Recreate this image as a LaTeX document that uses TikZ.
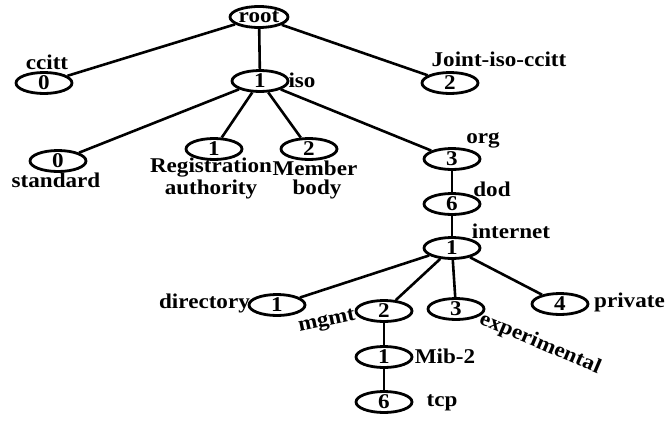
\documentclass[tikz,border=0pt]{standalone}
\usepackage{fontspec}
\setmainfont{Liberation Serif}[FakeStretch=1.1]
\usetikzlibrary{shapes.geometric}
\begin{document}
\begin{tikzpicture}[x=1pt,y=-1pt,
  oid/.style={ellipse,draw,line width=2.8pt,minimum width=56pt,minimum height=21pt,inner sep=0pt,font=\bfseries\fontsize{21}{21}\selectfont},
  lbl/.style={inner sep=0pt,font=\bfseries\fontsize{21}{21}\selectfont},
  edge/.style={line width=2.6pt}]
\useasboundingbox (0,0) rectangle (671,420);
% nodes
\node[oid,minimum width=58pt] (root) at (259,17) {root};
\node[oid] (ccitt) at (44,83) {0};
\node[oid] (iso) at (260,81) {1};
\node[oid] (joint) at (450,83) {2};
\node[oid] (std) at (58,161) {0};
\node[oid] (reg) at (214,149) {1};
\node[oid] (mem) at (309,149) {2};
\node[oid] (org) at (452,159) {3};
\node[oid] (dod) at (452,204) {6};
\node[oid] (inet) at (452,248) {1};
\node[oid] (dir) at (277,305) {1};
\node[oid] (mgmt) at (384,311) {2};
\node[oid] (exp) at (456,309) {3};
\node[oid] (priv) at (560,304) {4};
\node[oid] (mib) at (384,357) {1};
\node[oid] (tcp) at (384,402) {6};
% labels
\node[lbl] (lccitt) at (47,62) {ccitt};
\node[lbl] (liso) at (302,80) {iso};
\node[lbl] (ljoint) at (499,59) {Joint-iso-ccitt};
\node[lbl] (lstd) at (56,180) {standard};
\node[lbl] (lreg1) at (211,168) {Registration};
\node[lbl] (lreg2) at (211,189) {authority};
\node[lbl] (lmem1) at (315,168) {Member};
\node[lbl] (lmem2) at (317,189) {body};
\node[lbl] (lorg) at (483,140) {org};
\node[lbl] (ldod) at (492,189) {dod};
\node[lbl] (linet) at (511,231) {internet};
\node[lbl,anchor=east] (ldir) at (250,303) {directory};
\node[lbl,rotate=12] (lmgmt) at (327,322) {mgmt};
\node[lbl,rotate=-23] (lexp) at (540,344) {experimental};
\node[lbl,anchor=west] (lpriv) at (594,302) {private};
\node[lbl] (lmib) at (445,356) {Mib-2};
\node[lbl] (ltcp) at (442,403) {tcp};
% edges
\draw[edge] (root) -- (ccitt);
\draw[edge] (root) -- (iso);
\draw[edge] (root) -- (joint);
\draw[edge] (iso) -- (std);
\draw[edge] (iso) -- (reg);
\draw[edge] (iso) -- (mem);
\draw[edge] (iso) -- (org);
\draw[edge] (org) -- (dod);
\draw[edge] (dod) -- (inet);
\draw[edge] (inet) -- (dir);
\draw[edge] (inet) -- (mgmt);
\draw[edge] (inet) -- (exp);
\draw[edge] (inet) -- (priv);
\draw[edge] (mgmt) -- (mib);
\draw[edge] (mib) -- (tcp);
\end{tikzpicture}
\end{document}
